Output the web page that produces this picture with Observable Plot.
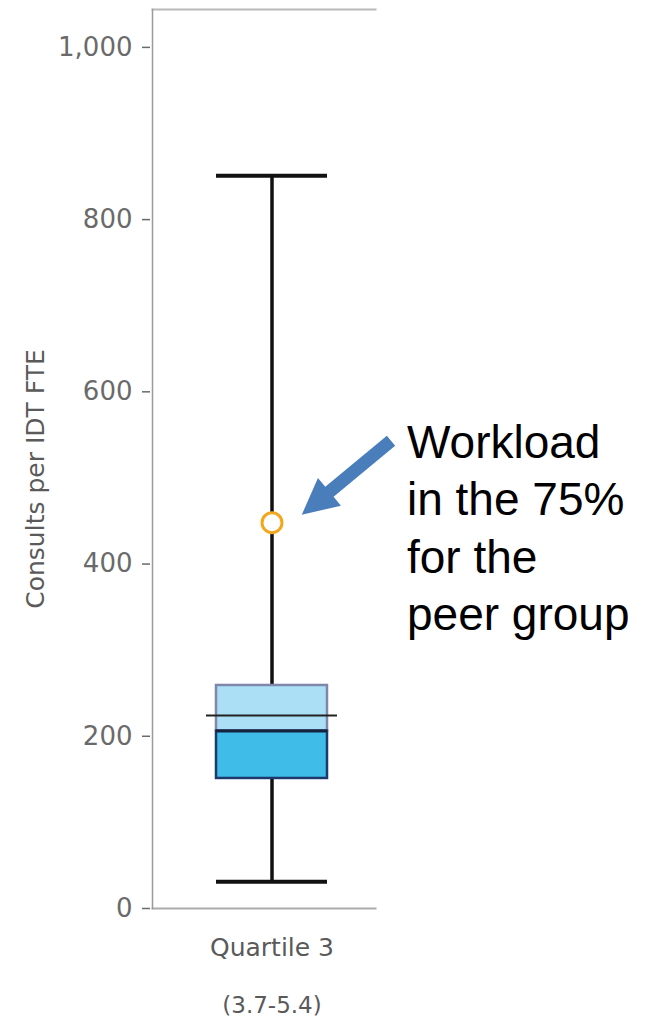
<!DOCTYPE html>
<html>
<head>
<meta charset="utf-8">
<script src="https://cdn.jsdelivr.net/npm/d3@7"></script>
<script src="https://cdn.jsdelivr.net/npm/@observablehq/plot@0.6"></script>
<style>
  html, body { margin: 0; padding: 0; background: #fff; }
</style>
</head>
<body>
<div id="chart"></div>
<script>
// ---- data ----
const categories = ["Quartile 3"];
const rangeLabels = ["(3.7-5.4)"];
const mins = [31];
const q1s = [151];
const medians = [206];
const means = [224];
const q3s = [259];
const maxs = [851];
const markerValues = [448];
const annotationLines = ["Workload", "in the 75%", "for the", "peer group"];
const yTicks = [0, 200, 400, 600, 800, 1000];
const yLabel = "Consults per IDT FTE";
const yDomain = [0, 1044];

const rows = categories.map((c, i) => ({
  cat: c, range: rangeLabels[i], min: mins[i], q1: q1s[i], median: medians[i],
  mean: means[i], q3: q3s[i], max: maxs[i], marker: markerValues[i]
}));

// filled arrow shape for the annotation pointer
const filledArrow = {
  draw(context, l) {
    const w = 6.5, H = 18, h = 36;
    context.moveTo(-w, 0);
    context.lineTo(-w, -(l - h));
    context.lineTo(-H, -(l - h));
    context.lineTo(0, -l);
    context.lineTo(H, -(l - h));
    context.lineTo(w, -(l - h));
    context.lineTo(w, 0);
    context.closePath();
  }
};

const chart = Plot.plot({
  width: 652,
  height: 1020,
  marginLeft: 152,
  marginRight: 277,
  marginTop: 9,
  marginBottom: 112,
  style: { fontFamily: "DejaVu Sans", background: "#fff", overflow: "visible" },
  x: { type: "band", domain: categories, padding: 1 / 3, align: 0.57 },
  y: { domain: yDomain },
  marks: [
    Plot.frame({ anchor: "top", stroke: "#b8b8b8", strokeWidth: 2 }),
    Plot.frame({ anchor: "bottom", stroke: "#ababab", strokeWidth: 2 }),
    Plot.frame({ anchor: "left", stroke: "#9a9a9a", strokeWidth: 1.5 }),
    Plot.axisY({
      ticks: yTicks, tickFormat: d3.format(","), tickSize: 8, tickPadding: 10,
      dx: -2, fontSize: 26, color: "#6a6a6a", strokeWidth: 1.5, label: null
    }),
    Plot.axisX({ tickSize: 0, tickPadding: 30, fontSize: 25, color: "#5a5a5a", label: null }),
    Plot.text(rows, {
      x: "cat", text: "range", frameAnchor: "bottom", lineAnchor: "top",
      dy: 88, fontSize: 23, fill: "#5a5a5a"
    }),
    Plot.text([yLabel], {
      frameAnchor: "left", textAnchor: "middle", rotate: -90, dx: -117, dy: 20,
      fontSize: 25, fill: "#5a5a5a"
    }),
    // whisker
    Plot.ruleX(rows, { x: "cat", y1: "min", y2: "max", stroke: "#111", strokeWidth: 3.5 }),
    Plot.tickY(rows, { x: "cat", y: "min", stroke: "#111", strokeWidth: 4 }),
    Plot.tickY(rows, { x: "cat", y: "max", stroke: "#111", strokeWidth: 4 }),
    // box halves
    Plot.barY(rows, { x: "cat", y1: "median", y2: "q3", fill: "#aadff5", stroke: "#7f87ab", strokeWidth: 2.5 }),
    Plot.barY(rows, { x: "cat", y1: "q1", y2: "median", fill: "#3fbde8", stroke: "#1c3a6b", strokeWidth: 2.5 }),
    Plot.tickY(rows, { x: "cat", y: "median", stroke: "#15233f", strokeWidth: 3 }),
    // mean line
    Plot.tickY(rows, { x: "cat", y: "mean", stroke: "#222", strokeWidth: 2, insetLeft: -10, insetRight: -10 }),
    // marker
    Plot.dot(rows, { x: "cat", y: "marker", r: 10, fill: "#fff", stroke: "#f4a61d", strokeWidth: 3 }),
    // annotation arrow + text
    Plot.vector(rows, {
      x: "cat", y: "marker", dx: 119, dy: -82, length: 116, rotate: -129.7,
      anchor: "start", shape: filledArrow, fill: "#4a7ebb", stroke: "none"
    }),
    Plot.text(rows, {
      x: "cat", y: "marker", text: () => annotationLines.join("\n"),
      dx: 135, dy: -106, textAnchor: "start", lineAnchor: "top", lineHeight: 1.25,
      fontSize: 46, fontFamily: "Liberation Sans, Arial, sans-serif", fill: "#000"
    })
  ]
});

document.getElementById("chart").appendChild(chart);
</script>
</body>
</html>
